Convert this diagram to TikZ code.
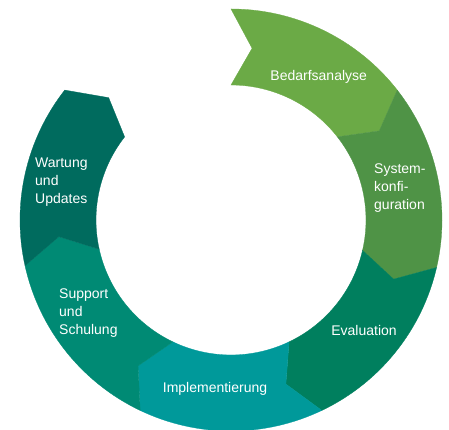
\documentclass[tikz,border=0pt]{standalone}
\usepackage{fontspec}
\setmainfont{Liberation Sans}
\usepackage{tikz}
\usetikzlibrary{positioning}

\definecolor{bedarfgreen}{HTML}{6BAA46}
\definecolor{systemgreen}{HTML}{4F9346}
\definecolor{evalgreen}{HTML}{007F5E}
\definecolor{implteal}{HTML}{00999A}
\definecolor{supportteal}{HTML}{008A74}
\definecolor{wartungteal}{HTML}{006B5E}

\tikzset{
  phaselabel/.style={text=white, inner sep=0pt, align=left,
    font=\fontsize{14pt}{17.7pt}\selectfont}
}

\begin{document}
\begin{tikzpicture}[x=1pt, y=1pt]
\useasboundingbox (-231,-210) rectangle (218,220);

% Ring segments (start angle / end angle / colour), clockwise
\foreach \a/\b/\col in {90/38/bedarfgreen, 38/-13/systemgreen, -13/-64.5/evalgreen,
    -64.5/-115.5/implteal, -115.5/-167.5/supportteal, 192.5/142/wartungteal} {
    \fill[\col, draw=\col, line width=0.3pt]
      (\a:211pt) arc[start angle=\a, end angle=\b, radius=211pt]
      -- ({\b-7}:173pt) -- (\b:135pt)
      arc[start angle=\b, end angle=\a, radius=135pt]
      -- ({\a-7}:173pt) -- cycle;
}

% Labels
\node[phaselabel] (bedarf) at (87.7,143) {Bedarfsanalyse};
\node[phaselabel, anchor=west] (system) at (143,32) {System-\\konfi-\\guration};
\node[phaselabel] (eval) at (133,-110) {Evaluation};
\node[phaselabel] (impl) at (-16,-169) {Implementierung};
\node[phaselabel, anchor=west] (support) at (-172,-93) {Support\\und\\Schulung};
\node[phaselabel, anchor=west] (wartung) at (-196,38) {Wartung\\und\\Updates};

\end{tikzpicture}
\end{document}
